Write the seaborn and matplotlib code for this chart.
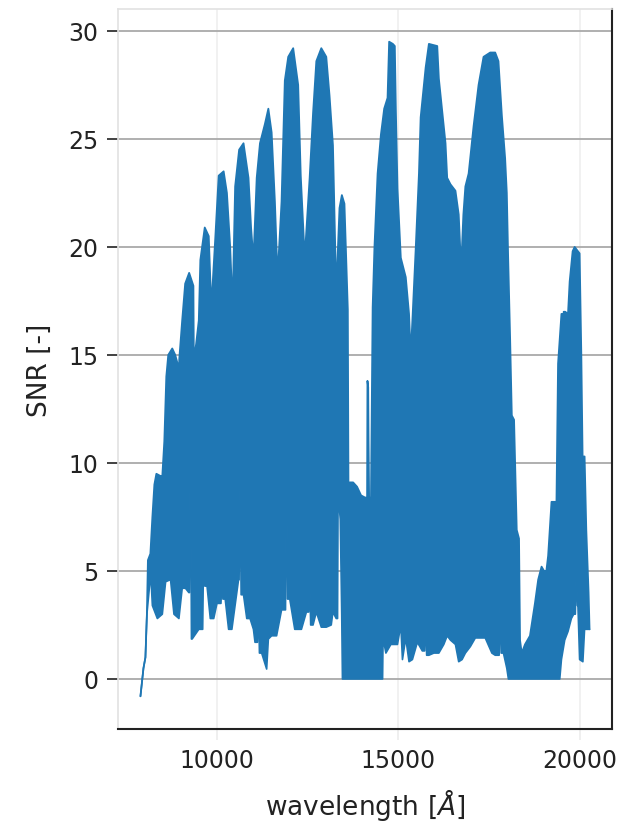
import numpy as np
import pandas as pd
import matplotlib
matplotlib.use("Agg")
import matplotlib.pyplot as plt
import seaborn as sns

# Upper envelope of the SNR spectrum
upper_wavelength = [7890, 7973, 8027, 8068, 8096, 8164, 8219, 8274, 8329, 8438, 8493, 8548, 8603, 8657,
                    8767, 8849, 8930, 8945, 8960, 9041, 9123, 9233, 9350, 9365, 9380, 9425, 9499, 9542,
                    9663, 9773, 9844, 9953, 10047, 10184, 10274, 10364, 10430, 10501, 10611, 10732, 10869,
                    10940, 11006, 11096, 11186, 11323, 11417, 11507, 11597, 11671, 11781, 11871, 11965,
                    12102, 12239, 12310, 12419, 12556, 12650, 12740, 12877, 13014, 13104, 13198, 13288,
                    13379, 13444, 13515, 13608, 13625, 13640, 13652, 13664, 13754, 13863, 13973, 14083,
                    14140, 14150, 14170, 14180, 14195, 14247, 14293, 14343, 14430, 14521, 14611, 14704,
                    14748, 14849, 14904, 14932, 14978, 15069, 15206, 15296, 15343, 15389, 15480, 15570,
                    15617, 15754, 15844, 16074, 16118, 16211, 16302, 16348, 16439, 16576, 16666, 16732,
                    16795, 16850, 16940, 17077, 17214, 17351, 17535, 17672, 17762, 17855, 17946, 17992,
                    18028, 18083, 18130, 18192, 18266, 18329, 18357, 18403, 18494, 18631, 18768, 18858,
                    18951, 19020, 19035, 19050, 19083, 19132, 19225, 19362, 19406, 19499, 19535, 19548,
                    19561, 19603, 19680, 19726, 19808, 19863, 20000, 20047, 20082, 20137, 20184, 20247,
                    20274]
upper_snr = [-0.8, 0.5, 1.0, 3.0, 5.5, 5.8, 7.5, 9.0, 9.5, 9.4, 9.4, 11.0, 14.0, 15.0,
             15.3, 15.0, 14.5, 13.4, 14.8, 16.6, 18.3, 18.8, 18.2, 13.7, 15.0, 15.5, 16.6, 19.4,
             20.9, 20.5, 17.2, 20.4, 23.3, 23.5, 22.5, 20.0, 17.2, 22.8, 24.5, 24.8, 23.2,
             20.9, 19.4, 23.2, 24.8, 25.7, 26.4, 25.3, 22.1, 18.6, 22.1, 27.7, 28.8,
             29.2, 27.5, 23.3, 19.5, 23.2, 26.2, 28.6, 29.2, 28.8, 27.0, 24.7, 17.9,
             21.8, 22.4, 22.0, 17.1, 9.0, 9.0, 3.8, 9.1, 9.1, 8.9, 8.5, 8.4,
             8.4, 13.8, 13.5, 11.0, 8.4, 8.4, 17.2, 20.0, 23.4, 25.2, 26.4, 26.9,
             29.5, 29.4, 29.3, 26.4, 22.7, 19.5, 18.6, 16.9, 15.0, 16.6, 19.9, 23.4,
             26.0, 28.3, 29.4, 29.3, 27.8, 26.3, 24.8, 23.2, 22.9, 22.6, 21.5, 19.0,
             21.5, 22.8, 23.4, 25.6, 27.5, 28.8, 29.0, 29.0, 28.6, 26.1, 24.1, 22.5,
             19.6, 15.8, 12.2, 12.0, 6.9, 6.5, 1.8, 1.2, 1.6, 2.0, 3.5, 4.6,
             5.2, 5.0, 2.9, 5.0, 5.0, 5.7, 8.2, 8.2, 14.6, 16.9, 16.9, 12.1,
             17.0, 17.0, 16.9, 18.4, 19.8, 20.0, 19.7, 15.0, 10.3, 10.3, 6.9, 4.0,
             2.3]

# Lower envelope of the SNR spectrum
lower_wavelength = [7890, 7973, 8027, 8068, 8173, 8219, 8356, 8493, 8584, 8720, 8814, 8951, 9041,
                    9131, 9225, 9240, 9268, 9296, 9315, 9499, 9606, 9636, 9666, 9726, 9816, 9910,
                    10000, 10090, 10110, 10137, 10164, 10227, 10321, 10411, 10595, 10610, 10638,
                    10666, 10732, 10822, 10912, 11006, 11049, 11115, 11143, 11171, 11233, 11370,
                    11417, 11507, 11644, 11781, 11890, 11918, 11946, 12008, 12145, 12239, 12329,
                    12466, 12528, 12556, 12584, 12649, 12740, 12877, 13014, 13151, 13197, 13288,
                    13325, 13340, 13400, 13440, 13460, 14567, 14580, 14658, 14795, 14978, 15069,
                    15115, 15206, 15296, 15389, 15526, 15663, 15726, 15754, 15782, 15844, 15981,
                    16118, 16255, 16348, 16439, 16576, 16666, 16759, 16850, 16987, 17124, 17261,
                    17398, 17581, 17672, 17781, 17809, 17837, 17900, 17992, 18037, 19453, 19499,
                    19589, 19680, 19773, 19836, 19882, 19910, 19938, 19954, 20000, 20090, 20137,
                    20274]
lower_snr = [-0.8, 0.5, 1.0, 3.0, 4.9, 3.4, 2.8, 3.0, 4.5, 4.6, 3.0, 2.8, 4.2,
             4.2, 4.0, 4.0, 12.5, 1.85, 1.85, 2.3, 2.3, 6.5, 4.3, 4.3, 2.8, 2.8,
             3.5, 3.5, 3.5, 4.8, 3.7, 3.7, 2.3, 2.3, 4.6, 4.6, 9.4,
             3.9, 3.9, 2.8, 2.8, 2.3, 1.7, 1.7, 3.8, 1.2, 1.2, 0.46,
             1.85, 2.0, 2.0, 3.2, 3.2, 10.6, 3.7, 3.7, 2.3, 2.3, 2.3,
             3.1, 3.1, 4.8, 2.5, 2.5, 3.1, 2.4, 2.4, 2.5, 3.1, 2.8,
             2.8, 8.6, 7.4, 3.0, 0.0, 0.0, 1.9, 1.2, 1.6, 1.6, 2.5,
             0.9, 1.9, 0.8, 0.9, 1.7, 1.3, 1.3, 3.1, 1.1, 1.1, 1.2,
             1.2, 1.6, 2.0, 1.8, 1.6, 0.8, 0.9, 1.2, 1.5, 1.9, 1.9,
             1.9, 1.2, 1.1, 1.1, 3.8, 1.2, 1.2, 0.5, 0.0, 0.0, 0.9,
             1.8, 2.2, 2.8, 3.0, 3.0, 5.4, 3.4, 3.4, 0.9, 0.8, 2.3,
             2.3]

y_ticks = [0, 5, 10, 15, 20, 25, 30]
x_ticks = [10000, 15000, 20000]

sns.set_style("white")
plt.rcParams['font.family'] = ['DejaVu Sans']

W, H = 626, 828
fig = plt.figure(figsize=(W / 100, H / 100), dpi=100)
ax = fig.add_axes([118 / W, 1 - 730 / H, (612 - 118) / W, (730 - 10) / H])

blue = '#1f77b4'
poly_x = np.concatenate([upper_wavelength, lower_wavelength[::-1]])
poly_y = np.concatenate([upper_snr, lower_snr[::-1]])
ax.fill(poly_x, poly_y, facecolor=blue, edgecolor='none', lw=0, zorder=2)

up = pd.DataFrame({'wavelength': upper_wavelength, 'snr': upper_snr})
lo = pd.DataFrame({'wavelength': lower_wavelength, 'snr': lower_snr})
sns.lineplot(data=up, x='wavelength', y='snr', color=blue, lw=1.3, ax=ax,
             sort=False, estimator=None, zorder=3)
sns.lineplot(data=lo, x='wavelength', y='snr', color=blue, lw=1.2, ax=ax,
             sort=False, estimator=None, zorder=3)

ax.set_xticks(x_ticks)
ax.set_yticks(y_ticks)
ax.set_xticklabels([str(t) for t in x_ticks])
ax.set_yticklabels([str(t) for t in y_ticks])

ax.yaxis.grid(True, color='#a9a9a9', lw=1.3, zorder=0)
ax.xaxis.grid(True, color='#f0f0f0', lw=1.3, zorder=0)
ax.set_axisbelow(True)

for s in ['left', 'top']:
    ax.spines[s].set_color('#e2e2e2')
    ax.spines[s].set_linewidth(1.2)
for s in ['right', 'bottom']:
    ax.spines[s].set_color('#222222')
    ax.spines[s].set_linewidth(1.5)

ax.tick_params(axis='y', left=True, length=8, width=1.3, color='#333333',
               labelsize=17, pad=6, labelcolor='#222222')
ax.tick_params(axis='x', bottom=True, length=8, width=1.3, color='#eeeeee',
               labelsize=17, pad=6, labelcolor='#222222')

ax.set_xlabel(r'wavelength [$\AA$]', fontsize=19, color='#222222', labelpad=10)
ax.set_ylabel('SNR [-]', fontsize=19, color='#222222', labelpad=11)

fig.savefig('out.png', dpi=100)
